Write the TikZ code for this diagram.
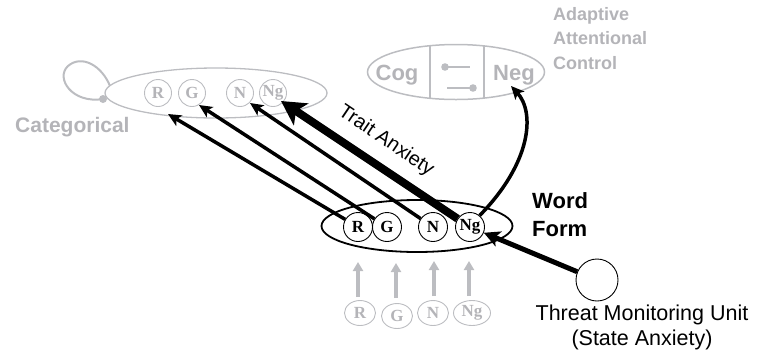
\documentclass[tikz,border=0pt]{standalone}
\usepackage{fontspec}
\setmainfont{Liberation Serif}
\setsansfont{Liberation Sans}
\usetikzlibrary{shapes.geometric,arrows.meta,calc}
\definecolor{lg}{RGB}{188,189,193}
\definecolor{lgt}{RGB}{180,180,184}
\begin{document}
\begin{tikzpicture}[x=1pt,y=-1pt,
  letter/.style={circle,draw,line width=0.9pt,minimum size=29pt,inner sep=0pt,
    font=\fontsize{17}{17}\selectfont\bfseries},
  gletter/.style={letter,draw=lg,text=lgt,minimum size=27pt},
  bletter/.style={ellipse,draw=lg,text=lgt,line width=0.9pt,minimum height=25pt,
    minimum width=31pt,inner sep=0pt,font=\fontsize{17}{17}\selectfont\bfseries},
  blackarrow/.style={line width=3.5pt,-{Stealth[length=13pt,width=12pt,inset=3pt]}},
  grayarrow/.style={draw=lg,line width=3.2pt,-{Triangle[length=9pt,width=10pt]}},
  glabel/.style={text=lgt,font=\sffamily\bfseries\fontsize{21}{24}\selectfont,inner sep=0pt},
]
\path[use as bounding box] (0,0) rectangle (760,360);

% ---------- categorical ----------
\node[ellipse,draw=lg,line width=1.3pt,minimum width=222pt,minimum height=50pt] (cat) at (216,93) {};
\node[gletter] (cR) at (158,93) {R};
\node[gletter] (cG) at (192,93) {G};
\node[gletter] (cN) at (240,93) {N};
\node[gletter] (cNg) at (273,93) {Ng};
\coordinate (loopdot) at (103,99);
\coordinate (loopend) at (110,86);
\draw[lg,line width=2pt] (loopdot) .. controls (72,104) and (55,78) .. (68,66)
   .. controls (82,54) and (102,66) .. (loopend);
\fill[lg] (loopdot) circle (4);
\node[glabel,anchor=base west] (catlab) at (15,132) {Categorical};

% ---------- adaptive attentional control ----------
\node[ellipse,draw=lg,line width=1.5pt,minimum width=177pt,minimum height=55pt] (aac) at (456,72) {};
\draw[lg,line width=1.5pt] (430,45.9) -- (430,98.1);
\draw[lg,line width=1.5pt] (484,46.0) -- (484,98.0);
\node[glabel,font=\sffamily\bfseries\fontsize{22}{24}\selectfont,anchor=base] (cog) at (397,80) {Cog};
\node[glabel,font=\sffamily\bfseries\fontsize{22}{24}\selectfont,anchor=base] (neg) at (514,80) {Neg};
\draw[lg,line width=2.5pt] (445,67) -- (470,67);
\fill[lg] (445,67) circle (3.8);
\draw[lg,line width=2.5pt] (447,88) -- (473,88);
\fill[lg] (473,88) circle (3.8);
\node[glabel,font=\sffamily\bfseries\fontsize{18}{24.5}\selectfont,align=left,anchor=north west]
  (aaclab) at (553,7) {Adaptive\\Attentional\\Control};

% ---------- word form ----------
\node[ellipse,draw,line width=1.8pt,minimum width=191pt,minimum height=52pt] (wf) at (417,226) {};
\node[letter] (wR) at (358,227) {R};
\node[letter] (wG) at (387,227) {G};
\node[letter] (wN) at (433,227) {N};
\node[letter] (wNg) at (470,227) {Ng};
\node[font=\sffamily\bfseries\fontsize{22}{28}\selectfont,align=left,anchor=north west,inner sep=0pt]
  (wflab) at (532,192) {Word\\Form};

% ---------- bottom input units ----------
\node[bletter] (bR) at (360,313) {R};
\node[bletter] (bG) at (397,316) {G};
\node[bletter] (bN) at (433,313) {N};
\node[bletter,minimum width=37pt] (bNg) at (472,313) {Ng};
\coordinate (aR) at (358,262);
\coordinate (aG) at (396,263);
\coordinate (aN) at (434,261);
\coordinate (aNg) at (469,261);
\draw[grayarrow] (358,297) -- (aR);
\draw[grayarrow] (396,298) -- (aG);
\draw[grayarrow] (434,296) -- (aN);
\draw[grayarrow] (469,296) -- (aNg);

% ---------- threat monitoring unit ----------
\node[circle,draw,line width=0.9pt,minimum size=42pt,inner sep=0pt] (tmu) at (597,280) {};
\node[font=\sffamily\fontsize{21.5}{25}\selectfont,align=center,anchor=north,inner sep=0pt]
  (tmulab) at (642,305) {Threat Monitoring Unit\\(State Anxiety)};

% ---------- connections ----------
\coordinate (tR) at (168,114);
\coordinate (tG) at (199,105);
\coordinate (tN) at (250,103);
\coordinate (tNg) at (281,101);
\draw[blackarrow] (wR) -- (tR);
\draw[blackarrow] (wG) -- (tG);
\draw[blackarrow] (wN) -- (tN);
\draw[line width=8pt,-{Stealth[length=24pt,width=26pt,inset=6pt]}] (wNg) -- (tNg);
\node[font=\sffamily\fontsize{20}{20}\selectfont,rotate=-34,inner sep=0pt] (trait) at (386,141) {Trait Anxiety};
\coordinate (negtip) at (511,86);
\draw[line width=3.5pt,-{Stealth[length=13pt,width=12pt,inset=3pt]}]
  (wNg.50) .. controls (532,162) and (535,112) .. (negtip);
\draw[line width=5pt,-{Stealth[length=16pt,width=16pt,inset=4pt]}] (tmu) -- (wNg);
\end{tikzpicture}
\end{document}
